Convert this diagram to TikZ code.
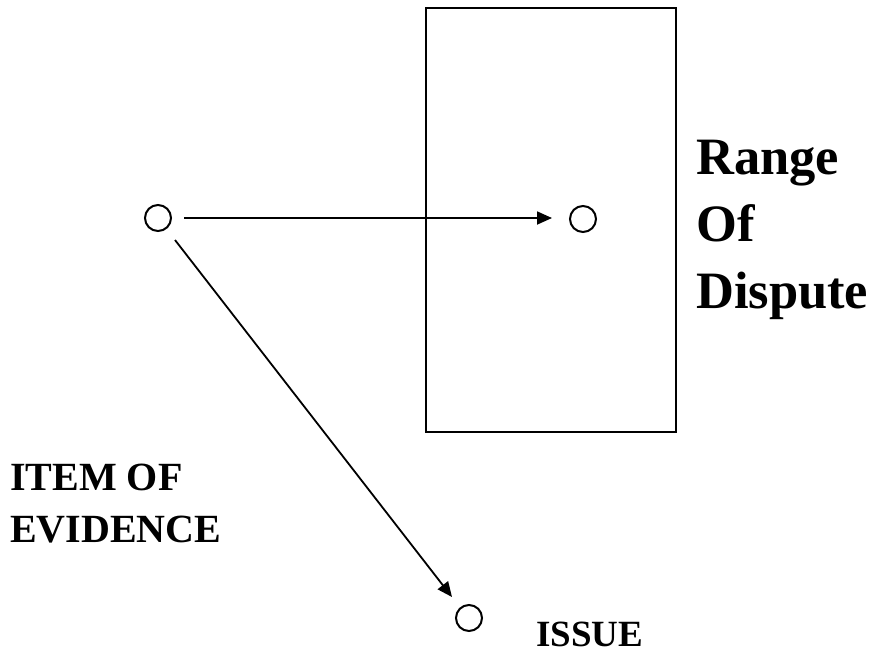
\documentclass[tikz,border=0pt]{standalone}
\usepackage{fontspec}
\setmainfont{Liberation Serif}
\usetikzlibrary{arrows.meta}
\tikzset{
  dot/.style={circle,draw,line width=2pt,minimum size=26pt,inner sep=0pt},
  conn/.style={line width=1.8pt,-{Triangle[length=15pt,width=13pt]}},
  bigtxt/.style={anchor=base west,inner sep=0pt,align=left,font=\bfseries\fontsize{52.5}{67}\selectfont},
  midtxt/.style={anchor=base west,inner sep=0pt,align=left,font=\bfseries\fontsize{40}{52}\selectfont},
  smtxt/.style={anchor=base west,inner sep=0pt,font=\bfseries\fontsize{37}{44}\selectfont},
}
\begin{document}
\begin{tikzpicture}[x=1pt,y=-1pt]
\useasboundingbox (0,0) rectangle (878,654);
\draw[line width=2.6pt] (426,8) rectangle (676,432);
\node[dot] (a) at (158,218) {};
\node[dot] (b) at (583,219) {};
\node[dot] (c) at (469,618) {};
\coordinate (a1) at (184,218);
\coordinate (a2) at (175,240);
\coordinate (bt) at (552,218);
\coordinate (ct) at (452,597);
\draw[conn] (a1) -- (bt);
\draw[conn] (a2) -- (ct);
\node[bigtxt] (rod) at (696,308) {Range\\Of\\Dispute};
\node[midtxt] (ioe) at (10,542) {ITEM OF\\EVIDENCE};
\node[smtxt] (iss) at (536,646) {ISSUE};
\end{tikzpicture}
\end{document}
